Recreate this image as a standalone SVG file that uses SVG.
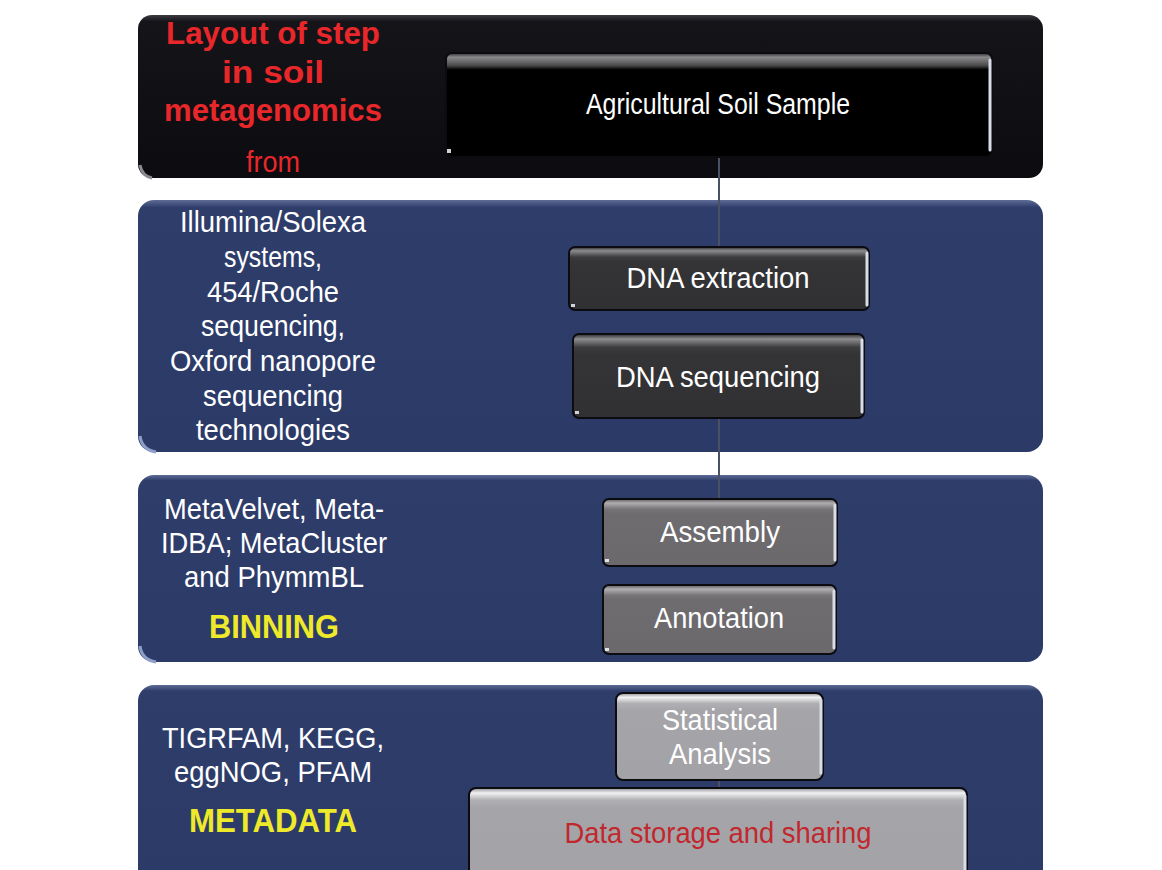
<svg xmlns="http://www.w3.org/2000/svg" width="1162" height="870" viewBox="0 0 1162 870">
  <defs>
    <linearGradient id="bandBlack" x1="0" y1="0" x2="0" y2="1">
      <stop offset="0" stop-color="#3a3a40"/>
      <stop offset="0.04" stop-color="#151419"/>
      <stop offset="1" stop-color="#0c0b0f"/>
    </linearGradient>
    <linearGradient id="bandBlue" x1="0" y1="0" x2="0" y2="1">
      <stop offset="0" stop-color="#5d6b96"/>
      <stop offset="0.03" stop-color="#2f3d6b"/>
      <stop offset="1" stop-color="#2c3a68"/>
    </linearGradient>
    <linearGradient id="boxBlack" x1="0" y1="0" x2="0" y2="1">
      <stop offset="0" stop-color="#2a2a2c"/>
      <stop offset="0.04" stop-color="#8a8a8c"/>
      <stop offset="0.12" stop-color="#4a4a4c"/>
      <stop offset="0.16" stop-color="#000"/>
      <stop offset="1" stop-color="#000"/>
    </linearGradient>
    <linearGradient id="boxDark" x1="0" y1="0" x2="0" y2="1">
      <stop offset="0" stop-color="#2a2a2d"/>
      <stop offset="0.06" stop-color="#8c8c8f"/>
      <stop offset="0.16" stop-color="#3c3c3f"/>
      <stop offset="0.24" stop-color="#343437"/>
      <stop offset="1" stop-color="#313134"/>
    </linearGradient>
    <linearGradient id="boxMid" x1="0" y1="0" x2="0" y2="1">
      <stop offset="0" stop-color="#5a585b"/>
      <stop offset="0.06" stop-color="#b0aeb1"/>
      <stop offset="0.15" stop-color="#767477"/>
      <stop offset="0.22" stop-color="#6e6c6f"/>
      <stop offset="1" stop-color="#6b696c"/>
    </linearGradient>
    <linearGradient id="boxLight" x1="0" y1="0" x2="0" y2="1">
      <stop offset="0" stop-color="#8e8d91"/>
      <stop offset="0.05" stop-color="#f2f2f4"/>
      <stop offset="0.12" stop-color="#b0afb3"/>
      <stop offset="0.2" stop-color="#a5a4a8"/>
      <stop offset="1" stop-color="#a3a2a6"/>
    </linearGradient>
    <style>
      .lbl { font-family: "Liberation Sans", Arial, sans-serif; text-anchor: middle; }
      .side { fill: #ffffff; font-size: 29px; }
      .title { fill: #e8272b; font-size: 32px; font-weight: bold; }
      .tag { fill: #eeea2a; font-size: 33px; font-weight: bold; }
      .boxtxt { fill: #ffffff; font-size: 30px; }
      .edge { stroke: #0b0b10; stroke-width: 2; }
      .shine { stroke: #d8dde8; stroke-width: 3; stroke-linecap: round; }
      .conn { stroke: #4b5064; stroke-width: 2; fill: none; }
    </style>
  </defs>

  <rect width="1162" height="870" fill="#ffffff"/>

  <!-- horizontal bands -->
  <g id="band-sample">
    <rect x="138" y="15" width="905" height="163" rx="14" fill="url(#bandBlack)"/>
    <path d="M140 165 Q142 176 152 178" stroke="#8a8a90" stroke-width="3" fill="none"/>
    <text class="lbl title" x="273" y="44" textLength="214" lengthAdjust="spacingAndGlyphs">Layout of step</text>
    <text class="lbl title" x="273" y="83" textLength="102" lengthAdjust="spacingAndGlyphs">in soil</text>
    <text class="lbl title" x="273" y="121" textLength="218" lengthAdjust="spacingAndGlyphs">metagenomics</text>
    <text class="lbl" x="273" y="172" fill="#e8272b" font-size="29" textLength="54" lengthAdjust="spacingAndGlyphs">from</text>
  </g>

  <g id="band-sequencing">
    <rect x="138" y="200" width="905" height="252" rx="16" fill="url(#bandBlue)"/>
    <path d="M140 436 Q142 450 156 452" stroke="#8fa0c8" stroke-width="3" fill="none"/>
    <text class="lbl side" x="273" y="232" textLength="186" lengthAdjust="spacingAndGlyphs">Illumina/Solexa</text>
    <text class="lbl side" x="273" y="267" textLength="98" lengthAdjust="spacingAndGlyphs">systems,</text>
    <text class="lbl side" x="273" y="302" textLength="132" lengthAdjust="spacingAndGlyphs">454/Roche</text>
    <text class="lbl side" x="273" y="336" textLength="144" lengthAdjust="spacingAndGlyphs">sequencing,</text>
    <text class="lbl side" x="273" y="371" textLength="206" lengthAdjust="spacingAndGlyphs">Oxford nanopore</text>
    <text class="lbl side" x="273" y="406" textLength="140" lengthAdjust="spacingAndGlyphs">sequencing</text>
    <text class="lbl side" x="273" y="440" textLength="154" lengthAdjust="spacingAndGlyphs">technologies</text>
  </g>

  <g id="band-binning">
    <rect x="138" y="475" width="905" height="187" rx="16" fill="url(#bandBlue)"/>
    <path d="M140 646 Q142 660 156 662" stroke="#8fa0c8" stroke-width="3" fill="none"/>
    <text class="lbl side" x="274" y="519" textLength="220" lengthAdjust="spacingAndGlyphs">MetaVelvet, Meta-</text>
    <text class="lbl side" x="274" y="553" textLength="226" lengthAdjust="spacingAndGlyphs">IDBA; MetaCluster</text>
    <text class="lbl side" x="274" y="587" textLength="180" lengthAdjust="spacingAndGlyphs">and PhymmBL</text>
    <text class="lbl tag" x="274" y="638" textLength="130" lengthAdjust="spacingAndGlyphs">BINNING</text>
  </g>

  <g id="band-metadata">
    <rect x="138" y="685" width="905" height="200" rx="16" fill="url(#bandBlue)"/>
    <text class="lbl side" x="273" y="748" textLength="222" lengthAdjust="spacingAndGlyphs">TIGRFAM, KEGG,</text>
    <text class="lbl side" x="273" y="782" textLength="198" lengthAdjust="spacingAndGlyphs">eggNOG, PFAM</text>
    <text class="lbl tag" x="273" y="832" textLength="168" lengthAdjust="spacingAndGlyphs">METADATA</text>
  </g>

  <!-- connectors between steps -->
  <g id="connectors">
    <line class="conn" x1="719" y1="157" x2="719" y2="247"/>
    <line class="conn" x1="719" y1="418" x2="719" y2="499"/>
    <line class="conn" x1="719" y1="780" x2="719" y2="788"/>
  </g>

  <!-- process steps -->
  <g id="step-soil-sample">
    <rect x="446" y="53" width="546" height="104" rx="6" fill="url(#boxBlack)" class="edge"/>
    <line class="shine" x1="990" y1="60" x2="990" y2="150"/>
    <rect x="447" y="149" width="4" height="4" fill="#cfd3da"/>
    <text class="lbl boxtxt" x="718" y="114" textLength="264" lengthAdjust="spacingAndGlyphs">Agricultural Soil Sample</text>
  </g>

  <g id="step-dna-extraction">
    <rect x="569" y="247" width="300" height="63" rx="6" fill="url(#boxDark)" class="edge"/>
    <line class="shine" x1="867" y1="253" x2="867" y2="305"/>
    <rect x="571" y="304" width="4" height="3" fill="#cfd3da"/>
    <text class="lbl boxtxt" x="718" y="288" textLength="183" lengthAdjust="spacingAndGlyphs">DNA extraction</text>
  </g>

  <g id="step-dna-sequencing">
    <rect x="573" y="334" width="291" height="84" rx="6" fill="url(#boxDark)" class="edge"/>
    <line class="shine" x1="862" y1="340" x2="862" y2="412"/>
    <rect x="575" y="411" width="4" height="3" fill="#cfd3da"/>
    <text class="lbl boxtxt" x="718" y="387" textLength="204" lengthAdjust="spacingAndGlyphs">DNA sequencing</text>
  </g>

  <g id="step-assembly">
    <rect x="603" y="499" width="234" height="67" rx="6" fill="url(#boxMid)" class="edge"/>
    <line class="shine" x1="835" y1="505" x2="835" y2="560"/>
    <rect x="605" y="559" width="4" height="3" fill="#dfe2e8"/>
    <text class="lbl boxtxt" x="720" y="542" textLength="120" lengthAdjust="spacingAndGlyphs">Assembly</text>
  </g>

  <g id="step-annotation">
    <rect x="603" y="585" width="233" height="69" rx="6" fill="url(#boxMid)" class="edge"/>
    <line class="shine" x1="834" y1="591" x2="834" y2="648"/>
    <rect x="605" y="648" width="4" height="3" fill="#dfe2e8"/>
    <text class="lbl boxtxt" x="719" y="628" textLength="130" lengthAdjust="spacingAndGlyphs">Annotation</text>
  </g>

  <g id="step-statistics">
    <rect x="616" y="693" width="207" height="87" rx="7" fill="url(#boxLight)" class="edge"/>
    <line class="shine" x1="821" y1="700" x2="821" y2="773"/>
    <text class="lbl boxtxt" x="720" y="730" textLength="116" lengthAdjust="spacingAndGlyphs">Statistical</text>
    <text class="lbl boxtxt" x="720" y="764" textLength="102" lengthAdjust="spacingAndGlyphs">Analysis</text>
  </g>

  <g id="step-data-storage">
    <rect x="469" y="788" width="498" height="100" rx="7" fill="url(#boxLight)" class="edge"/>
    <line class="shine" x1="965" y1="796" x2="965" y2="870"/>
    <text class="lbl" x="718" y="843" fill="#c1272d" font-size="30" textLength="307" lengthAdjust="spacingAndGlyphs">Data storage and sharing</text>
  </g>
</svg>
